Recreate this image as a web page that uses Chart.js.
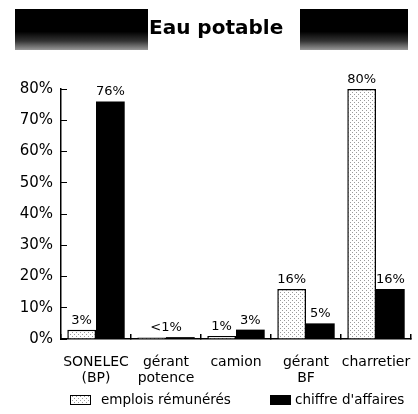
<!DOCTYPE html>
<html>
<head>
<meta charset="utf-8">
<script src="https://cdn.jsdelivr.net/npm/chart.js@4.4.0/dist/chart.umd.min.js"></script>
<style>
  body { margin: 0; background: #fff; }
  #wrap { position: relative; width: 418px; height: 414px; }
  #grafico { position: absolute; left: 0; top: 0; }
  .bloco { position: absolute; top: 9px; height: 41px; background: linear-gradient(#000 0%, #000 55%, #333 78%, #999 100%); }
  #titulo { position: absolute; left: 149px; top: 15px; font: bold 20px "DejaVu Sans"; color: #000; }
</style>
</head>
<body>
<div id="wrap">
  <canvas id="grafico" width="418" height="414"></canvas>
  <div class="bloco" style="left:15px; width:133px;"></div>
  <div class="bloco" style="left:300px; width:108px;"></div>
  <div id="titulo">Eau potable</div>
</div>
<script>
const categorias = [["SONELEC", "(BP)"], ["gérant", "potence"], "camion", ["gérant", "BF"], "charretier"];
const emplois = [3, 0.5, 1, 16, 80];
const chiffre = [76, 0.6, 3, 5, 16];
const rotulosEmplois = ["3%", "", "1%", "16%", "80%"];
const rotulosChiffre = ["76%", "", "3%", "5%", "16%"];
const rotulosGrupo = ["", "<1%", "", "", ""];
const nomesSeries = ["emplois rémunérés", "chiffre d'affaires"];
const yMax = 80;
const yPasso = 10;

const fonte = '"DejaVu Sans", sans-serif';

// motif pointillé pour les emplois
function criarMotivo() {
  const c = document.createElement("canvas");
  c.width = 4; c.height = 4;
  const g = c.getContext("2d");
  g.fillStyle = "#fff";
  g.fillRect(0, 0, 4, 4);
  g.fillStyle = "#9a9a9a";
  g.fillRect(0, 0, 1, 1);
  g.fillRect(2, 2, 1, 1);
  return g.createPattern(c, "repeat");
}
const motivo = criarMotivo();

const rotulosPlugin = {
  id: "rotulos",
  afterDatasetsDraw(chart) {
    const ctx = chart.ctx;
    ctx.save();
    ctx.font = "13px " + fonte;
    ctx.fillStyle = "#000";
    ctx.textAlign = "center";
    ctx.textBaseline = "bottom";
    [rotulosEmplois, rotulosChiffre].forEach((rot, i) => {
      chart.getDatasetMeta(i).data.forEach((bar, j) => {
        if (rot[j]) ctx.fillText(rot[j], bar.x, bar.y - 3);
      });
    });
    rotulosGrupo.forEach((t, j) => {
      if (!t) return;
      const a = chart.getDatasetMeta(0).data[j];
      const b = chart.getDatasetMeta(1).data[j];
      ctx.fillText(t, (a.x + b.x) / 2, Math.min(a.y, b.y) - 3);
    });
    ctx.restore();
  }
};

const legendaPlugin = {
  id: "legenda",
  afterDraw(chart) {
    const ctx = chart.ctx;
    const caixaX = [70, 270];
    const textoX = [101, 295];
    const y = 400;
    ctx.save();
    ctx.font = "13.5px " + fonte;
    ctx.textBaseline = "middle";
    chart.data.datasets.forEach((ds, i) => {
      const x = caixaX[i];
      ctx.fillStyle = ds.backgroundColor;
      ctx.fillRect(x, y - 5, 21, 10);
      ctx.strokeStyle = "#000";
      ctx.lineWidth = 1;
      ctx.strokeRect(x + 0.5, y - 4.5, 20, 9);
      ctx.fillStyle = "#000";
      ctx.fillText(ds.label, textoX[i], y);
    });
    ctx.restore();
  }
};

new Chart(document.getElementById("grafico"), {
  type: "bar",
  data: {
    labels: categorias,
    datasets: [
      {
        label: nomesSeries[0],
        data: emplois,
        backgroundColor: motivo,
        borderColor: "#000",
        borderWidth: 1.5,
        borderSkipped: "bottom"
      },
      {
        label: nomesSeries[1],
        data: chiffre,
        backgroundColor: "#000",
        borderWidth: 0
      }
    ]
  },
  options: {
    responsive: false,
    animation: false,
    layout: { autoPadding: false, padding: { left: 0, right: 7, top: 89, bottom: 0 } },
    datasets: { bar: { categoryPercentage: 0.82, barPercentage: 1 } },
    plugins: {
      legend: { display: false },
      tooltip: { enabled: false }
    },
    scales: {
      x: {
        offset: true,
        grid: { offset: true, drawOnChartArea: false, drawTicks: true, tickLength: -5, color: "#000", lineWidth: 1.5 },
        border: { color: "#000", width: 1.5 },
        ticks: { color: "#000", font: { size: 14, family: fonte, lineHeight: 1.1 }, padding: 21, maxRotation: 0, autoSkip: false },
        afterFit: s => { s.height = 75; s.paddingLeft = 0; s.paddingRight = 0; }
      },
      y: {
        min: 0,
        max: yMax,
        grid: { drawOnChartArea: false, drawTicks: true, tickLength: -6, color: "#000" },
        border: { color: "#000", width: 1.5 },
        ticks: { stepSize: yPasso, color: "#000", font: { size: 15, family: fonte }, padding: 14, callback: v => v + "%" },
        afterFit: s => { s.width = 61; s.paddingTop = 0; s.paddingBottom = 0; }
      }
    }
  },
  plugins: [rotulosPlugin, legendaPlugin]
});
</script>
</body>
</html>
